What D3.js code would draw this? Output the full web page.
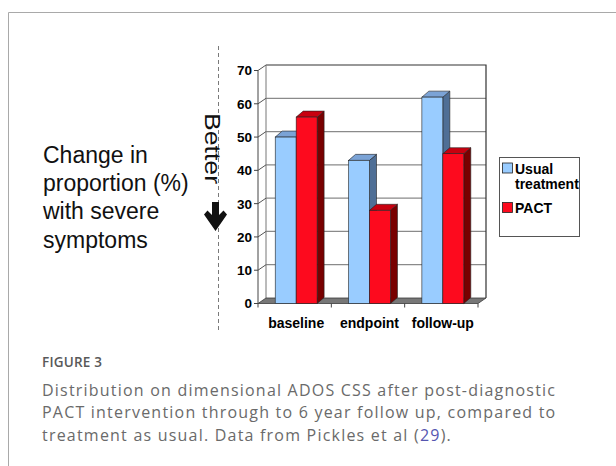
<!DOCTYPE html>
<html>
<head>
<meta charset="utf-8">
<script src="https://cdn.jsdelivr.net/npm/d3@7"></script>
<style>
  html, body { margin: 0; padding: 0; background: #fff; }
  svg { display: block; }
</style>
</head>
<body>
<svg id="fig" width="616" height="466"></svg>
<script>
// Chart data
const categories = ["baseline", "endpoint", "follow-up"];
const seriesNames = ["Usual treatment", "PACT"];
const usualValues = [50, 43, 62];
const pactValues = [56, 28, 45];
const yTicks = [0, 10, 20, 30, 40, 50, 60, 70];
const sideLabel = ["Change in", "proportion (%)", "with severe", "symptoms"];
const captionTitle = "FIGURE 3";
const captionLines = [
  "Distribution on dimensional ADOS CSS after post-diagnostic",
  "PACT intervention through to 6 year follow up, compared to",
  "treatment as usual. Data from Pickles et al ("
];
const captionRef = "29";
const captionTail = ").";

const svg = d3.select("#fig");
const valuesBySeries = [usualValues, pactValues];

// Frame around the figure panel
svg.append("path")
  .attr("d", "M8.5,466 V12.5 H616")
  .attr("fill", "none").attr("stroke", "#a9a9a9").attr("stroke-width", 1);

// Plot geometry (front plane + depth offset of the back wall)
const frontLeft = 258, frontRight = 478;
const depthX = 8, depthY = -5.5;
const barDX = 7, barDY = -6;

const y = d3.scaleLinear().domain([0, 70]).range([303.5, 70.5]);
const x0 = d3.scaleBand().domain(categories).range([frontLeft, frontRight]).padding(0);
const x1 = d3.scaleBand().domain(seriesNames)
  .range([1.5, x0.bandwidth() + 1.5]).paddingInner(0).paddingOuter(0.75);

const g = svg.append("g");

// Back wall
const wallTop = y(70) + depthY, wallBottom = y(0) + depthY;
g.append("rect")
  .attr("x", frontLeft + depthX).attr("y", wallTop)
  .attr("width", frontRight - frontLeft).attr("height", wallBottom - wallTop)
  .attr("fill", "#fff");

// Gridlines on the back wall
g.selectAll("line.grid").data(yTicks.filter(d => d > 0 && d < 70)).join("line")
  .attr("class", "grid")
  .attr("x1", frontLeft + depthX).attr("x2", frontRight + depthX)
  .attr("y1", d => y(d) + depthY).attr("y2", d => y(d) + depthY)
  .attr("stroke", "#8a8a8a").attr("stroke-width", 1.3);

// Back wall outline: top and right edges dark, left edge grey
g.append("path")
  .attr("d", `M${frontLeft + depthX},${wallTop} H${frontRight + depthX} V${wallBottom}`)
  .attr("fill", "none").attr("stroke", "#333").attr("stroke-width", 1.2);
g.append("line")
  .attr("x1", frontLeft + depthX).attr("x2", frontLeft + depthX)
  .attr("y1", wallTop).attr("y2", wallBottom)
  .attr("stroke", "#777").attr("stroke-width", 1);

// Side wall ties from the front axis to the back wall
g.selectAll("line.tie").data(yTicks.filter(d => d > 0)).join("line")
  .attr("class", "tie")
  .attr("x1", frontLeft).attr("y1", d => y(d))
  .attr("x2", frontLeft + depthX).attr("y2", d => y(d) + depthY)
  .attr("stroke", "#555").attr("stroke-width", 1);

// Floor
g.append("path")
  .attr("d", `M${frontLeft},${y(0)} L${frontLeft + depthX},${y(0) + depthY} H${frontRight + depthX} L${frontRight},${y(0)} Z`)
  .attr("fill", "#777").attr("stroke", "#3a3a3a").attr("stroke-width", 0.8);

// Front value axis
g.append("line")
  .attr("x1", frontLeft).attr("x2", frontLeft)
  .attr("y1", y(0)).attr("y2", y(70))
  .attr("stroke", "#444").attr("stroke-width", 1);
g.selectAll("line.ytick").data(yTicks).join("line")
  .attr("class", "ytick")
  .attr("x1", frontLeft - 4).attr("x2", frontLeft)
  .attr("y1", d => y(d)).attr("y2", d => y(d))
  .attr("stroke", "#444").attr("stroke-width", 1);
g.selectAll("text.ylab").data(yTicks).join("text")
  .attr("class", "ylab")
  .attr("x", frontLeft - 6).attr("y", d => y(d))
  .attr("dy", "0.36em").attr("text-anchor", "end")
  .attr("font-family", "Liberation Sans, Arial, sans-serif")
  .attr("font-weight", "bold").attr("font-size", 13.5).attr("fill", "#000")
  .text(d => d);

// Category ticks under the floor edge
const catEdges = categories.map(c => x0(c)).concat([frontRight]);
g.selectAll("line.xtick").data(catEdges).join("line")
  .attr("class", "xtick")
  .attr("x1", d => d).attr("x2", d => d)
  .attr("y1", y(0)).attr("y2", y(0) + 4)
  .attr("stroke", "#444").attr("stroke-width", 1);

// 3D bars
const palette = {
  "Usual treatment": { front: "#99ccff", top: "#7ba3d6", side: "#4f6f96" },
  "PACT": { front: "#fd0a1e", top: "#c8000f", side: "#780000" }
};
const barData = [];
categories.forEach((c, ci) => {
  seriesNames.forEach((s, si) => {
    barData.push({ cat: c, series: s, value: valuesBySeries[si][ci] });
  });
});
const bars = g.selectAll("g.bar").data(barData).join("g").attr("class", "bar");
bars.each(function(d) {
  const bx = x0(d.cat) + x1(d.series);
  const bw = x1.bandwidth();
  const yt = y(d.value), yb = y(0);
  const col = palette[d.series];
  const sel = d3.select(this);
  sel.append("path")
    .attr("d", `M${bx + bw},${yt} L${bx + bw + barDX},${yt + barDY} V${yb + barDY} L${bx + bw},${yb} Z`)
    .attr("fill", col.side).attr("stroke", "#222").attr("stroke-width", 0.6);
  sel.append("path")
    .attr("d", `M${bx},${yt} L${bx + barDX},${yt + barDY} H${bx + bw + barDX} L${bx + bw},${yt} Z`)
    .attr("fill", col.top).attr("stroke", "#222").attr("stroke-width", 0.6);
  sel.append("rect")
    .attr("x", bx).attr("y", yt).attr("width", bw).attr("height", yb - yt)
    .attr("fill", col.front).attr("stroke", "#222").attr("stroke-width", 0.6);
});

// Category labels
g.selectAll("text.xlab").data(categories).join("text")
  .attr("class", "xlab")
  .attr("x", d => x0(d) + x1(seriesNames[0]) + x1.bandwidth())
  .attr("y", 328).attr("text-anchor", "middle")
  .attr("font-family", "Liberation Sans, Arial, sans-serif")
  .attr("font-weight", "bold").attr("font-size", 14).attr("fill", "#000")
  .text(d => d);

// Legend
const lg = svg.append("g");
lg.append("rect").attr("x", 499.5).attr("y", 157.5).attr("width", 80).attr("height", 79)
  .attr("fill", "#fff").attr("stroke", "#555").attr("stroke-width", 1);
const legendRows = [
  { name: seriesNames[0], lines: ["Usual", "treatment"], sy: 163 },
  { name: seriesNames[1], lines: ["PACT"], sy: 202.5 }
];
legendRows.forEach(r => {
  lg.append("rect").attr("x", 502.5).attr("y", r.sy).attr("width", 10).attr("height", 10)
    .attr("fill", palette[r.name].front).attr("stroke", "#222").attr("stroke-width", 0.8);
  r.lines.forEach((t, i) => {
    lg.append("text").attr("x", 515).attr("y", r.sy + 10.5 + i * 15.5)
      .attr("font-family", "Liberation Sans, Arial, sans-serif")
      .attr("font-weight", "bold").attr("font-size", 14).attr("fill", "#000")
      .text(t);
  });
});

// Side annotation: axis description, "Better" with arrow, dashed divider
svg.append("line")
  .attr("x1", 218.5).attr("x2", 218.5).attr("y1", 46).attr("y2", 331)
  .attr("stroke", "#7a7a7a").attr("stroke-width", 1).attr("stroke-dasharray", "4,3");

svg.selectAll("text.side").data(sideLabel).join("text")
  .attr("class", "side")
  .attr("x", 43).attr("y", (d, i) => 163 + i * 28.2)
  .attr("font-family", "Liberation Sans, Arial, sans-serif")
  .attr("font-size", 23).attr("fill", "#111")
  .text(d => d);

svg.append("text")
  .attr("transform", "translate(205,113) rotate(90)")
  .attr("font-family", "Liberation Sans, Arial, sans-serif")
  .attr("font-size", 22).attr("fill", "#111")
  .attr("textLength", 71).attr("lengthAdjust", "spacingAndGlyphs")
  .text("Better");

svg.append("path")
  .attr("d", "M212,202 H219 V215 L223.5,210.5 L227,214.5 L215.5,231 L204,214.5 L207.5,210.5 L212,215 Z")
  .attr("fill", "#111");

// Caption
svg.append("text")
  .attr("x", 42).attr("y", 367)
  .attr("font-family", "Open Sans, sans-serif")
  .attr("font-weight", 600).attr("font-size", 13.5).attr("fill", "#595959")
  .attr("letter-spacing", 0.2)
  .text(captionTitle);

const capG = svg.append("g")
  .attr("font-family", "Open Sans, sans-serif")
  .attr("font-size", 16)
  .attr("fill", "#6a6a6a");
const capTexts = captionLines.map((t, i) => capG.append("text")
  .attr("x", 42).attr("y", 396 + i * 22.4).text(t));
capTexts[2].append("tspan").attr("fill", "#5656b0").text(captionRef);
capTexts[2].append("tspan").text(captionTail);

// Open the tracking so the first line spans the text column
const baseWidth = capTexts[0].node().getComputedTextLength();
const gaps = captionLines[0].length - 1;
capG.attr("letter-spacing", Math.max(0, (513 - baseWidth) / gaps));
</script>
</body>
</html>
